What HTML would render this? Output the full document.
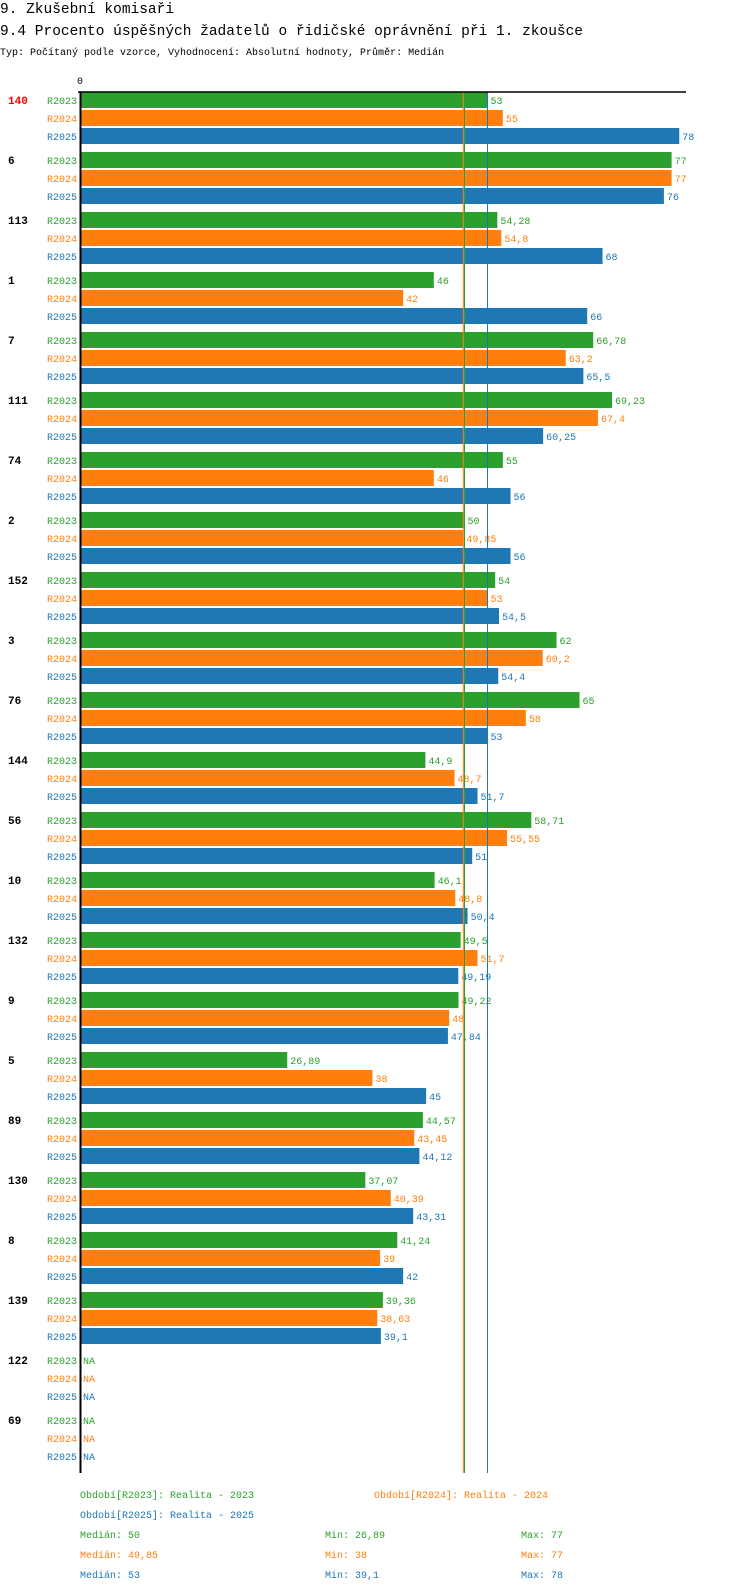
<!DOCTYPE html>
<html><head><meta charset="utf-8">
<style>
html,body{margin:0;padding:0;background:#fff;width:750px;height:1592px;overflow:hidden}
svg text{font-family:"Liberation Mono","DejaVu Sans Mono",monospace}
</style></head>
<body>
<svg id="chart" width="750" height="1592" xmlns="http://www.w3.org/2000/svg">
<text x="0" y="13" font-size="14.5">9. Zkušební komisaři</text>
<text x="0" y="35" font-size="14.5">9.4 Procento úspěšných žadatelů o řidičské oprávnění při 1. zkoušce</text>
<text x="0" y="55" font-size="10">Typ: Počítaný podle vzorce, Vyhodnocení: Absolutní hodnoty, Průměr: Medián</text>
<g id="plot"></g>
<g id="legend"></g>
</svg>
<script>
const groups = ["140","6","113","1","7","111","74","2","152","3","76","144","56","10","132","9","5","89","130","8","139","122","69"];
const seriesNames = ["R2023","R2024","R2025"];
const r2023 = [53,77,54.28,46,66.78,69.23,55,50,54,62,65,44.9,58.71,46.1,49.5,49.22,26.89,44.57,37.07,41.24,39.36,null,null];
const r2024 = [55,77,54.8,42,63.2,67.4,46,49.85,53,60.2,58,48.7,55.55,48.8,51.7,48,38,43.45,40.39,39,38.63,null,null];
const r2025 = [78,76,68,66,65.5,60.25,56,56,54.5,54.4,53,51.7,51,50.4,49.19,47.84,45,44.12,43.31,42,39.1,null,null];
const medians = [50,49.85,53];
const mins = ["26,89","38","39,1"];
const maxs = ["77","77","78"];
const legendLabels = ["Období[R2023]: Realita - 2023","Období[R2024]: Realita - 2024","Období[R2025]: Realita - 2025"];

const colors = ["#2ca02c","#ff7f0e","#1f77b4"];
const series = [r2023,r2024,r2025];
const X0 = 81, K = 7.67, TOP = 92, GSTEP = 60, RSTEP = 18, BH = 16;
const xs = v => X0 + v*K;
const ys = (g,r) => TOP + g*GSTEP + r*RSTEP;
const NS = "http://www.w3.org/2000/svg";
const plot = document.getElementById('plot');
const legend = document.getElementById('legend');
function mk(parent, tag, attrs, txt){
  const e = document.createElementNS(NS, tag);
  for (const k in attrs) e.setAttribute(k, attrs[k]);
  if (txt !== undefined) e.textContent = txt;
  parent.appendChild(e);
  return e;
}
const fmt = v => String(v).replace('.', ',');

groups.forEach((g, gi) => {
  const gl = mk(plot, 'text', {x:8, y:ys(gi,0)+12, 'font-size':11, 'font-weight':'bold', fill: gi===0?'#ff0000':'#000'}, g);
  
  
  series.forEach((s, si) => {
    const y = ys(gi, si);
    const lab = mk(plot, 'text', {x:77, y:y+12, 'font-size':10, 'text-anchor':'end', fill:colors[si]}, seriesNames[si]);
    
    
    const v = s[gi];
    if (v === null) {
      const na = mk(plot, 'text', {x:X0+2, y:y+12, 'font-size':10, fill:colors[si]}, 'NA');
      
      
      return;
    }
    const b = mk(plot, 'rect', {x:X0, y:y, width:xs(v)-X0, height:BH, fill:colors[si]});
    
    
    const t = mk(plot, 'text', {x:xs(v)+3, y:y+12, 'font-size':10, fill:colors[si]}, fmt(v));
    
    
  });
});

const bottom = ys(groups.length-1, 2) + 25;
medians.forEach((m, i) => {
  const l = mk(plot, 'line', {x1:xs(m), x2:xs(m), y1:TOP, y2:bottom, stroke:colors[i], 'stroke-width':1});
  
  
});
const ax = mk(plot, 'line', {x1:78, x2:686, y1:TOP, y2:TOP, stroke:'#000', 'stroke-width':1.5});


const ay = mk(plot, 'line', {x1:80.5, x2:80.5, y1:TOP, y2:bottom, stroke:'#000', 'stroke-width':2});


const t0 = mk(plot, 'text', {x:80, y:84, 'font-size':10, 'text-anchor':'middle'}, '0');



const LY = 1498;
const lp = [[80,LY],[374,LY],[80,LY+20]];
legendLabels.forEach((s, i) => {
  const e = mk(legend, 'text', {x:lp[i][0], y:lp[i][1], 'font-size':10, fill:colors[i]}, s);
  
  
});
medians.forEach((m, i) => {
  const y = LY + 40 + i*20;
  const a = mk(legend, 'text', {x:80, y:y, 'font-size':10, fill:colors[i]}, 'Medián: ' + fmt(m));
  
  
  const b = mk(legend, 'text', {x:325, y:y, 'font-size':10, fill:colors[i]}, 'Min: ' + mins[i]);
  
  
  const c = mk(legend, 'text', {x:521, y:y, 'font-size':10, fill:colors[i]}, 'Max: ' + maxs[i]);
  
  
});
</script>
</body></html>
